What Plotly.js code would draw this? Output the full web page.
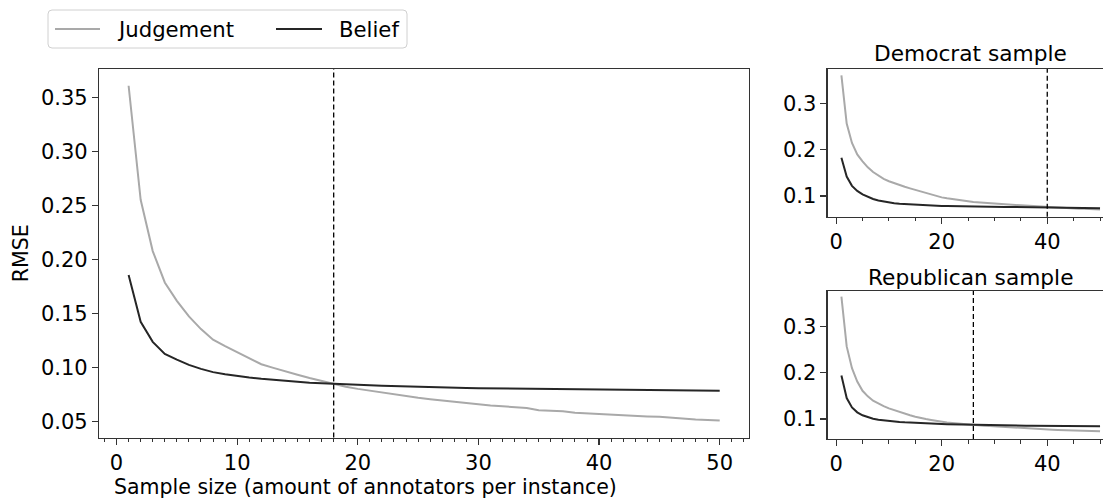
<!DOCTYPE html>
<html>
<head>
<meta charset="utf-8">
<script src="https://cdn.plot.ly/plotly-3.0.1.min.js"></script>
<style>html,body{margin:0;padding:0;background:#fff;}#chart{width:1103px;height:500px;}</style>
</head>
<body>
<div id="chart"></div>
<script>
// ---- data ----
const sampleSize = Array.from({length: 50}, (_, i) => i + 1);

const allJudgement = [0.361,0.2555,0.208,0.179,0.162,0.1475,0.1358,0.126,0.120,0.1144,
  0.1088,0.1033,0.0999,0.0965,0.0935,0.0905,0.0877,0.0850,0.0825,0.0805,
  0.0788,0.0770,0.0752,0.0735,0.0722,0.0710,0.0697,0.0685,0.0672,0.0660,
  0.0652,0.0644,0.0636,0.0628,0.0607,0.0604,0.0598,0.0583,0.0577,0.0570,
  0.0562,0.0558,0.0554,0.0550,0.0546,0.0536,0.0527,0.0522,0.0518,0.0512];
const allBelief = [0.1858,0.1425,0.124,0.1128,0.1076,0.1027,0.099,0.096,0.0941,0.0923,
  0.091,0.0898,0.0888,0.0879,0.0870,0.0862,0.0856,0.0850,0.0846,0.0842,
  0.0838,0.0834,0.0830,0.0827,0.0824,0.0821,0.0818,0.0815,0.0813,0.0811,
  0.0810,0.0809,0.0807,0.0806,0.0805,0.0804,0.0802,0.0800,0.0799,0.0797,
  0.0796,0.0795,0.0793,0.0792,0.0791,0.0790,0.0789,0.0788,0.0788,0.0787];

const demJudgement = [0.361,0.257,0.215,0.190,0.175,0.162,0.152,0.144,0.137,0.132,
  0.1275,0.1235,0.120,0.1165,0.113,0.110,0.107,0.104,0.100,0.097,
  0.095,0.093,0.0915,0.090,0.0885,0.087,0.086,0.085,0.084,0.083,
  0.0824,0.0818,0.0812,0.0805,0.0798,0.0790,0.0782,0.0774,0.0766,0.0758,
  0.0752,0.0746,0.0740,0.0735,0.0730,0.0726,0.0722,0.0718,0.0714,0.0710];
const demBelief = [0.183,0.142,0.122,0.111,0.1035,0.098,0.0935,0.0905,0.088,0.086,
  0.0845,0.0833,0.0825,0.0818,0.0812,0.0805,0.0800,0.0795,0.0790,0.0785,
  0.0782,0.0779,0.0777,0.0775,0.0773,0.0771,0.0769,0.0767,0.0766,0.0765,
  0.0764,0.0763,0.0762,0.0761,0.0760,0.0760,0.0759,0.0758,0.0758,0.0757,
  0.0755,0.0753,0.0751,0.0749,0.0747,0.0745,0.0743,0.0740,0.0738,0.0736];

const repJudgement = [0.365,0.257,0.210,0.181,0.161,0.149,0.1396,0.133,0.128,0.123,
  0.119,0.115,0.1115,0.108,0.105,0.102,0.100,0.098,0.0958,0.0935,
  0.0925,0.0914,0.0902,0.089,0.088,0.087,0.0862,0.0855,0.0848,0.084,
  0.0833,0.0826,0.0819,0.0812,0.0806,0.0799,0.0792,0.0785,0.0778,0.0770,
  0.0766,0.0761,0.0757,0.0752,0.0748,0.0745,0.0742,0.0739,0.0737,0.0734];
const repBelief = [0.194,0.1453,0.125,0.1144,0.108,0.1036,0.1007,0.0986,0.097,0.0957,
  0.0945,0.0935,0.0927,0.092,0.0913,0.0906,0.0903,0.0900,0.0896,0.0892,
  0.0888,0.0885,0.0881,0.0878,0.0874,0.0870,0.0868,0.0866,0.0865,0.0863,
  0.0862,0.0860,0.0859,0.0857,0.0856,0.0855,0.0853,0.0852,0.0850,0.0849,
  0.0848,0.0848,0.0847,0.0846,0.0845,0.0845,0.0844,0.0843,0.0843,0.0842];

const crossover = {all: 18, dem: 40, rep: 26};
const seriesNames = ['Judgement', 'Belief'];
const panelTitles = ['Democrat sample', 'Republican sample'];
const xTitle = 'Sample size (amount of annotators per instance)';
const yTitle = 'RMSE';

// ---- styles ----
const W = 1103, H = 500;
const cJ = '#a9a9a9', cB = '#262626';
const seriesColors = [cJ, cB];
const FONT = 'DejaVu Sans, sans-serif';
const FS = 20.5, TFS = 21, HFS = 21.7, LFS = 21.2;
const axisCol = '#333333';
const px = v => v / W;          // pixel -> paper x
const py = v => 1 - v / H;      // pixel -> paper y

function tr(y, color, name, xa, ya) {
  return {x: sampleSize, y: y, type: 'scatter', mode: 'lines', name: name,
    line: {color: color, width: 2}, xaxis: xa, yaxis: ya, showlegend: false,
    hoverinfo: 'skip'};
}

const data = [
  tr(allJudgement, cJ, seriesNames[0], 'x', 'y'),
  tr(allBelief, cB, seriesNames[1], 'x', 'y'),
  tr(demJudgement, cJ, seriesNames[0], 'x2', 'y2'),
  tr(demBelief, cB, seriesNames[1], 'x2', 'y2'),
  tr(repJudgement, cJ, seriesNames[0], 'x3', 'y3'),
  tr(repBelief, cB, seriesNames[1], 'x3', 'y3')
];

const baseAx = {
  showgrid: false, zeroline: false, showline: true, linecolor: axisCol, linewidth: 1.2,
  ticks: 'outside', ticklen: 6, tickwidth: 1.2, tickcolor: axisCol,
  tickfont: {family: FONT, size: TFS, color: '#000'}
};
const dash = {color: '#000', width: 1.3, dash: '5px,3px'};
const minorX = d => ({dtick: d, tick0: 0, ticks: 'outside', ticklen: 3.5, tickcolor: axisCol, tickwidth: 1});

// legend box (rounded rectangle) in paper coords
const L = {x0: 48, x1: 407, y0: 10, y1: 48, r: 4};
function roundRect(b) {
  const X = px, Y = py;
  return 'M' + X(b.x0 + b.r) + ',' + Y(b.y0) +
    ' L' + X(b.x1 - b.r) + ',' + Y(b.y0) + ' Q' + X(b.x1) + ',' + Y(b.y0) + ' ' + X(b.x1) + ',' + Y(b.y0 + b.r) +
    ' L' + X(b.x1) + ',' + Y(b.y1 - b.r) + ' Q' + X(b.x1) + ',' + Y(b.y1) + ' ' + X(b.x1 - b.r) + ',' + Y(b.y1) +
    ' L' + X(b.x0 + b.r) + ',' + Y(b.y1) + ' Q' + X(b.x0) + ',' + Y(b.y1) + ' ' + X(b.x0) + ',' + Y(b.y1 - b.r) +
    ' L' + X(b.x0) + ',' + Y(b.y0 + b.r) + ' Q' + X(b.x0) + ',' + Y(b.y0) + ' ' + X(b.x0 + b.r) + ',' + Y(b.y0) + ' Z';
}
const legendKeys = [{lx0: 55, lx1: 100, tx: 117}, {lx0: 276, lx1: 322, tx: 339}];
const legendY = 29;

const shapes = [
  {type: 'line', xref: 'x', yref: 'y domain', x0: crossover.all, x1: crossover.all, y0: 0, y1: 1, line: dash},
  {type: 'line', xref: 'x2', yref: 'y2 domain', x0: crossover.dem, x1: crossover.dem, y0: 0, y1: 1, line: dash},
  {type: 'line', xref: 'x3', yref: 'y3 domain', x0: crossover.rep, x1: crossover.rep, y0: 0, y1: 1, line: dash},
  {type: 'path', xref: 'paper', yref: 'paper', path: roundRect(L), line: {color: '#d0d0d0', width: 1}, fillcolor: 'rgba(255,255,255,0.8)'}
];
const annotations = [
  {text: xTitle, xref: 'paper', yref: 'paper', x: 0.331, y: 0.026,
    xanchor: 'center', yanchor: 'middle', showarrow: false, font: {family: FONT, size: FS, color: '#000'}},
  {text: panelTitles[0], xref: 'paper', yref: 'paper', x: 0.8803, y: 0.892,
    xanchor: 'center', yanchor: 'middle', showarrow: false, font: {family: FONT, size: HFS, color: '#000'}},
  {text: panelTitles[1], xref: 'paper', yref: 'paper', x: 0.8803, y: 0.446,
    xanchor: 'center', yanchor: 'middle', showarrow: false, font: {family: FONT, size: HFS, color: '#000'}}
];
legendKeys.forEach((k, i) => {
  shapes.push({type: 'line', xref: 'paper', yref: 'paper', x0: px(k.lx0), x1: px(k.lx1),
    y0: py(legendY), y1: py(legendY), line: {color: seriesColors[i], width: 2}});
  annotations.push({text: seriesNames[i], xref: 'paper', yref: 'paper', x: px(k.tx), y: py(legendY),
    xanchor: 'left', yanchor: 'middle', showarrow: false, xshift: -2,
    font: {family: FONT, size: LFS, color: '#000'}});
});

const layout = {
  width: W, height: H,
  margin: {l: 0, r: 0, t: 0, b: 0},
  paper_bgcolor: '#fff', plot_bgcolor: '#fff',
  font: {family: FONT, size: FS, color: '#000'},
  showlegend: false,
  xaxis: Object.assign({}, baseAx, {domain: [0.0898, 0.6793], range: [-1.45, 52.45],
    mirror: true, tickvals: [0, 10, 20, 30, 40, 50], minor: minorX(1), anchor: 'y'}),
  yaxis: Object.assign({}, baseAx, {domain: [0.125, 0.862], range: [0.0355, 0.3765],
    mirror: true, tickvals: [0.05, 0.10, 0.15, 0.20, 0.25, 0.30, 0.35], tickformat: '.2f',
    title: {text: yTitle, font: {family: FONT, size: FS}, standoff: 6}, anchor: 'x'}),
  xaxis2: Object.assign({}, baseAx, {domain: [0.7504, 1], range: [-1.6, 50.56],
    mirror: true, tickvals: [0, 20, 40], minor: minorX(5), anchor: 'y2'}),
  yaxis2: Object.assign({}, baseAx, {domain: [0.5666, 0.862], range: [0.0552, 0.375],
    tickvals: [0.1, 0.2, 0.3], tickformat: '.1f', anchor: 'x2'}),
  xaxis3: Object.assign({}, baseAx, {domain: [0.7504, 1], range: [-1.6, 50.56],
    mirror: true, tickvals: [0, 20, 40], minor: minorX(5), anchor: 'y3'}),
  yaxis3: Object.assign({}, baseAx, {domain: [0.122, 0.418], range: [0.0567, 0.377],
    tickvals: [0.1, 0.2, 0.3], tickformat: '.1f', anchor: 'x3'}),
  shapes: shapes,
  annotations: annotations
};

Plotly.newPlot('chart', data, layout, {displayModeBar: false, staticPlot: true});
</script>
</body>
</html>
